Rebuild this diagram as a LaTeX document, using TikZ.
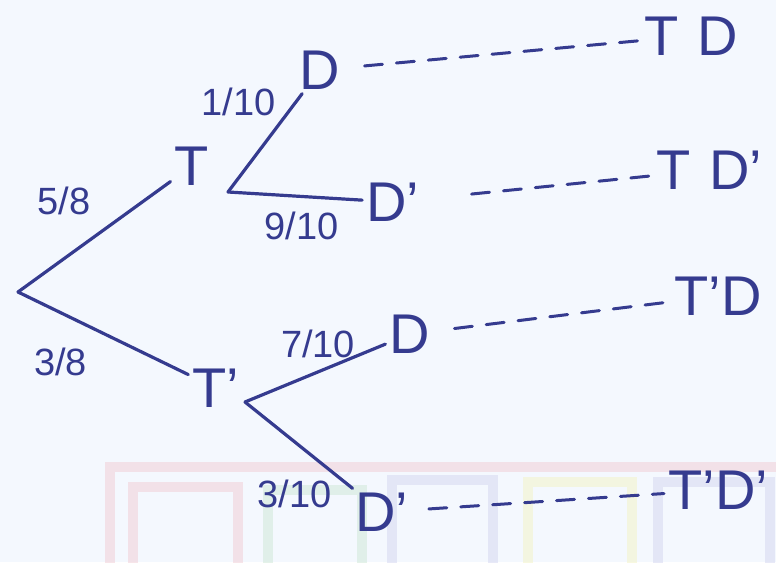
\documentclass[tikz,border=0pt]{standalone}
\usepackage{fontspec}
\setmainfont{Liberation Sans}
\usetikzlibrary{positioning}
\definecolor{ink}{HTML}{353B8F}
\definecolor{paper}{HTML}{F4F8FE}
\definecolor{wmpink}{HTML}{F2D3DA}
\definecolor{wmgreen}{HTML}{D3EADB}
\definecolor{wmblue}{HTML}{D8DBF1}
\definecolor{wmyellow}{HTML}{F3F4CC}

\begin{document}
\begin{tikzpicture}[x=0.5pt, y=-0.5pt,
    every node/.style={font=\fontsize{28}{32}\selectfont, text=ink},
    ev/.style={inner sep=2pt},
    res/.style={inner sep=2pt, anchor=west},
    lbl/.style={font=\fontsize{19}{22}\selectfont, inner sep=1pt},
    br/.style={draw=ink, line width=1.6pt, line cap=round},
    dsh/.style={draw=ink, line width=1.5pt, line cap=round, dash pattern=on 9pt off 7pt},
    wm/.style={line width=5pt, opacity=0.6}
]
\fill[paper] (0,0) rectangle (776,562);
\useasboundingbox (0,0) rectangle (776,562);

% faint watermark
\draw[wm, wmpink] (110,467) rectangle (800,600);
\draw[wm, wmpink] (133,487) rectangle (238,580);
\draw[wm, wmgreen] (268,490) rectangle (362,580);
\draw[wm, wmblue] (392,480) rectangle (493,580);
\draw[wm, wmyellow] (528,482) rectangle (632,580);
\draw[wm, wmblue] (658,482) rectangle (770,580);

% tree
\coordinate (root) at (18,292);
\node[ev] (T) at (192,166) {T};
\node[ev] (Tp) at (216,388) {T'};
\coordinate (Tfork) at (228,192);
\coordinate (Tpfork) at (245,402);
\node[ev] (D1) at (320,70) {D};
\node[ev] (D1p) at (393,202) {D'};
\node[ev] (D2) at (410,334) {D};
\node[ev] (D2p) at (382,512) {D'};

% outcomes
\node[res] (TD) at (640,36) {T\,\,D};
\node[res] (TDp) at (652,170) {T\,\,D'};
\node[res] (TpD) at (670,296) {T'D};
\node[res] (TpDp) at (664,490) {T'D'};

\draw[br] (root) -- node[lbl, pos=0.3, above=20pt] {5/8} (T);
\draw[br] (root) -- node[lbl, pos=0.25, below=16pt] {3/8} (Tp);
\draw[br] (Tfork) -- node[lbl, above left=1pt and 1pt, pos=0.72] {1/10} (D1);
\draw[br] (Tfork) -- node[lbl, below=6pt, pos=0.55] {9/10} (D1p);
\draw[br] (Tpfork) -- node[lbl, above=5pt, pos=0.52] {7/10} (D2);
\draw[br] (Tpfork) -- node[lbl, below left=1pt, pos=0.85] {3/10} (D2p);

\draw[dsh, shorten <=10pt] (D1) -- (TD);
\draw[dsh, shorten <=24pt] (D1p) -- (TDp);
\draw[dsh, shorten <=10pt] (D2) -- (TpD);
\draw[dsh, shorten <=8pt] (D2p) -- (TpDp);
\end{tikzpicture}
\end{document}
